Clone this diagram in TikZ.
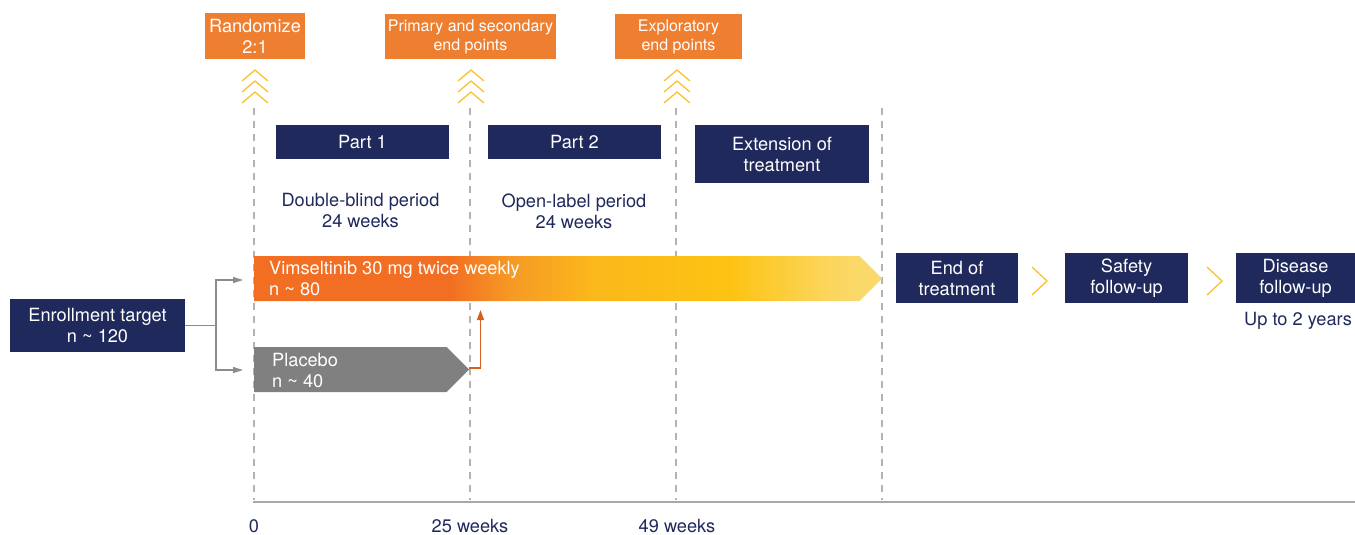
\documentclass[tikz,border=0pt]{standalone}
\usepackage{fontspec}
\setmainfont{TeX Gyre Heros}
\usetikzlibrary{shapes.symbols,arrows.meta,calc}
\definecolor{navy}{HTML}{20295B}
\definecolor{borange}{HTML}{EE7F31}
\definecolor{chev}{HTML}{F9C22F}
\definecolor{dgray}{HTML}{B3B3B3}
\definecolor{axgray}{HTML}{A8A8A8}
\definecolor{cgray}{HTML}{8C8C8C}
\definecolor{pgray}{HTML}{808080}
\definecolor{crossc}{HTML}{D4611F}
\definecolor{ga}{HTML}{F26E22}
\definecolor{gb}{HTML}{F69A25}
\definecolor{gc}{HTML}{FBB81B}
\definecolor{gd}{HTML}{FDC313}
\definecolor{ge}{HTML}{FCD55A}
\definecolor{gf}{HTML}{FAD96B}
\pgfdeclarehorizontalshading{vimgrad}{100bp}{color(0bp)=(ga); color(25bp)=(ga); color(40.5bp)=(ga); color(45.5bp)=(gb); color(52bp)=(gc); color(62.9bp)=(gd); color(70.3bp)=(ge); color(73.2bp)=(gf); color(100bp)=(gf)}
\tikzset{
  big/.style={font=\fontsize{18.2}{21}\selectfont},
  small/.style={font=\fontsize{16}{19}\selectfont},
  obox/.style={fill=borange, text=white, inner sep=0pt, align=center},
  nbox/.style={fill=navy, text=white, inner sep=0pt, align=center, big},
  lbl/.style={text=navy, inner sep=0pt, align=center, big},
  barlbl/.style={text=white, inner sep=0pt, align=left, anchor=west, big},
  dashline/.style={draw=dgray, line width=1.2pt, dash pattern=on 7pt off 6pt},
  chevline/.style={draw=chev, line width=1.3pt},
  conn/.style={draw=cgray, line width=1.3pt},
  armtip/.style={-{Triangle[length=10pt,width=6pt]}},
  crossarrow/.style={draw=crossc, line width=1.5pt, -{Triangle[length=10pt,width=7pt]}},
  upchev/.pic={\draw[chevline] (-13,11) -- (0,0) -- (13,11) (-13,22) -- (0,11) -- (13,22) (-13,33) -- (0,22) -- (13,33);},
  bar/.style={signal, signal to=east, signal pointer angle=90, inner sep=0pt, draw=none, anchor=west}
}
\begin{document}
\begin{tikzpicture}[x=1pt,y=-1pt]
\useasboundingbox (0,0) rectangle (1355,535);
% dashed period lines
\draw[dashline] (254,108) -- (254,500);
\draw[dashline] (470,108) -- (470,500);
\draw[dashline] (676,108) -- (676,500);
\draw[dashline] (882,108) -- (882,500);
% axis
\coordinate (ax0) at (253,502);
\coordinate (ax1) at (1355,502);
\draw[draw=axgray, line width=1.5pt] (ax0) -- (ax1);
\node[lbl] (t0) at (254,526) {0};
\node[lbl] (t25) at (470,526) {25 weeks};
\node[lbl] (t49) at (677,526) {49 weeks};
% top orange boxes
\node[obox, big, minimum width=100, minimum height=46] (rand) at (255,36) {Randomize\\2:1};
\node[obox, small, minimum width=171, minimum height=45] (prim) at (470.5,36.5) {Primary and secondary\\end points};
\node[obox, small, minimum width=127, minimum height=45] (expl) at (678.5,36.5) {Exploratory\\end points};
\pic at (255,70) {upchev};
\pic at (471,70) {upchev};
\pic at (677,70) {upchev};
% parts
\node[nbox, minimum width=173, minimum height=34] (part1) at (362.5,142) {Part 1};
\node[nbox, minimum width=173, minimum height=34] (part2) at (574.5,142) {Part 2};
\node[nbox, minimum width=174, minimum height=58] (ext) at (782,154) {Extension of\\treatment};
\node[lbl] (dbl) at (360.5,211) {Double-blind period\\24 weeks};
\node[lbl] (opl) at (574,211) {Open-label period\\24 weeks};
% arms
\node[bar, shading=vimgrad, minimum width=628, minimum height=45] (vim) at (254,278.5) {};
\node[barlbl] (vimt) at (269,279) {Vimseltinib 30 mg twice weekly\\n \textasciitilde{} 80};
\node[bar, fill=pgray, minimum width=215, minimum height=45] (plac) at (254,369.5) {};
\node[barlbl] (plact) at (272,370) {Placebo\\n \textasciitilde{} 40};
% enrollment
\node[nbox, minimum width=175, minimum height=53] (enroll) at (97.5,325.5) {Enrollment target\\n \textasciitilde{} 120};
\coordinate (jn) at (216,325.5);
\draw[conn] (enroll.east) -- (jn);
\draw[conn, armtip] (jn) |- ([xshift=-11pt, yshift=-1.5pt]vim.west);
\draw[conn, armtip] (jn) |- ([xshift=-11pt, yshift=-0.5pt]plac.west);
% crossover
\draw[crossarrow] ([yshift=1.5pt]plac.east) -- ++(11,0) -- ++(0,-58);
% follow-up
\node[nbox, minimum width=122, minimum height=50] (eot) at (957,278) {End of\\treatment};
\node[nbox, minimum width=123, minimum height=50] (safe) at (1126.5,278) {Safety\\follow-up};
\node[nbox, minimum width=119, minimum height=50] (dis) at (1295.5,278) {Disease\\follow-up};
\node[lbl] (up2) at (1298,321) {Up to 2 years};
\draw[chevline] (1032,267) -- (1047,281) -- (1032,295);
\draw[chevline] (1207,267) -- (1222,281) -- (1207,295);
\end{tikzpicture}
\end{document}
